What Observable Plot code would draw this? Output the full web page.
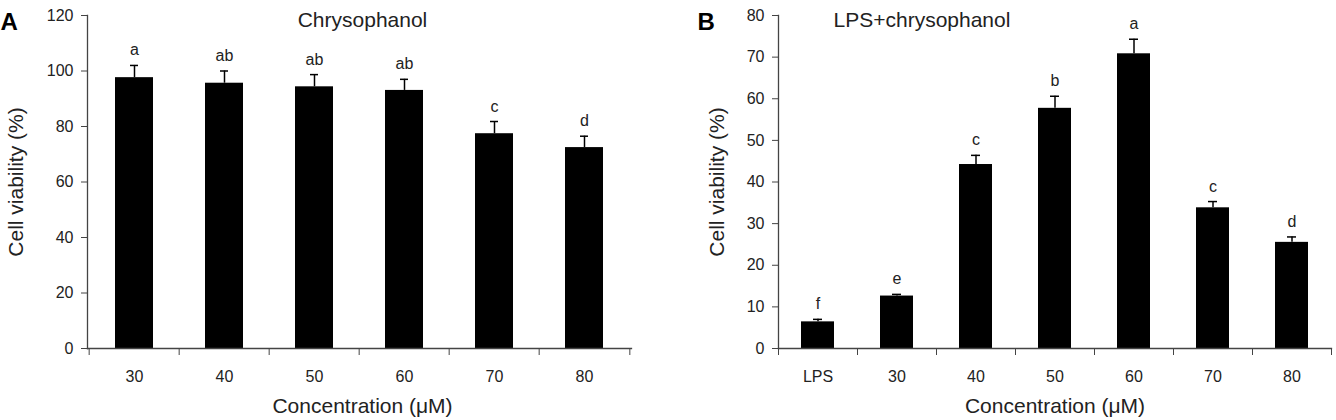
<!DOCTYPE html>
<html><head><meta charset="utf-8">
<script src="https://cdn.jsdelivr.net/npm/d3@7"></script>
<script src="https://cdn.jsdelivr.net/npm/@observablehq/plot@0.6"></script>
<style>
body{margin:0;background:#fff;font-family:"Liberation Sans",Arial,sans-serif;}
#wrap{display:flex;width:1336px;height:420px;}
#wrap svg{overflow:visible;}
</style></head><body><div id="wrap"></div>
<script>
// Panel A: Chrysophanol alone
const catsA = ["30","40","50","60","70","80"];
const valsA = [97.6, 95.6, 94.3, 93.0, 77.4, 72.4];
const errsA = [4.4, 4.4, 4.4, 4.0, 4.4, 4.1];
const sigA  = ["a","ab","ab","ab","c","d"];
const yTicksA = [0,20,40,60,80,100,120];

// Panel B: LPS + chrysophanol
const catsB = ["LPS","30","40","50","60","70","80"];
const valsB = [6.4, 12.6, 44.2, 57.7, 70.8, 33.8, 25.5];
const errsB = [0.6, 0.4, 2.2, 2.9, 3.5, 1.5, 1.3];
const sigB  = ["f","e","c","b","a","c","d"];
const yTicksB = [0,10,20,30,40,50,60,70,80];

const titleA = "Chrysophanol", titleB = "LPS+chrysophanol";
const letterA = "A", letterB = "B";
const xLabel = "Concentration (μM)", yLabel = "Cell viability (%)";

const FONT = '"Liberation Sans", Arial, sans-serif';

function panel(o) {
  const W = 668, H = 420, mt = 15, mb = 72;
  const data = o.cats.map((c, i) => ({cat: c, v: o.vals[i], top: o.vals[i] + o.errs[i], sig: o.sig[i]}));
  const step = (W - o.ml - o.mr) / o.cats.length;
  const ink = "#222", axisInk = "#444";
  return Plot.plot({
    width: W, height: H, marginLeft: o.ml, marginRight: o.mr, marginTop: mt, marginBottom: mb,
    style: {fontFamily: FONT, color: ink, background: "transparent", overflow: "visible"},
    x: {type: "band", domain: o.cats, paddingInner: 0.58, paddingOuter: 0.29},
    y: {domain: [0, o.yTicks[o.yTicks.length - 1]]},
    marks: [
      Plot.barY(data, {x: "cat", y: "v", fill: "#000"}),
      Plot.ruleX(data, {x: "cat", y1: "v", y2: "top", stroke: "#000", strokeWidth: 1.5}),
      Plot.tickY(data, {x: "cat", y: "top", stroke: "#000", strokeWidth: 1.5, insetLeft: o.capInset, insetRight: o.capInset}),
      Plot.text(data, {x: "cat", y: "top", text: "sig", dy: -10, lineAnchor: "bottom", fontSize: 16, fill: ink}),
      Plot.axisY({ticks: o.yTicks, tickSize: 6, tickPadding: 8, fontSize: 16, label: null, stroke: axisInk, tickFormat: d => String(d)}),
      Plot.axisX({tickSize: 0, tickPadding: 22, fontSize: 16, label: null}),
      Plot.axisX({text: null, tickSize: 7, dx: -step / 2, label: null, stroke: axisInk}),
      Plot.axisX({ticks: [o.cats[o.cats.length - 1]], text: null, tickSize: 7, dx: step / 2, label: null, stroke: axisInk}),
      Plot.frame({anchor: "left", stroke: axisInk, strokeWidth: 1.3}),
      Plot.frame({anchor: "bottom", stroke: axisInk, strokeWidth: 1.3}),
      Plot.text([o.title], {frameAnchor: o.titleAnchor, textAnchor: o.titleTextAnchor, dx: o.titleDx, dy: 11, lineAnchor: "bottom", fontSize: 21, fill: ink}),
      Plot.text([o.letter], {frameAnchor: "top-left", textAnchor: "start", dx: o.letterDx, dy: 14, lineAnchor: "bottom", fontSize: 24, fontWeight: "bold", fill: "#000"}),
      Plot.text([yLabel], {frameAnchor: "left", rotate: -90, dx: o.yLabelDx, lineAnchor: "bottom", textAnchor: "middle", fontSize: 21, fill: ink}),
      Plot.text([xLabel], {frameAnchor: "bottom", dx: o.xLabelDx, dy: 64, lineAnchor: "bottom", textAnchor: "middle", fontSize: 21, fill: ink})
    ]
  });
}

const wrap = document.getElementById("wrap");
wrap.append(panel({cats: catsA, vals: valsA, errs: errsA, sig: sigA, yTicks: yTicksA,
  title: titleA, letter: letterA, ml: 87, mr: 37, titleAnchor: "top", titleTextAnchor: "middle", titleDx: 3,
  letterDx: -87, yLabelDx: -65, xLabelDx: 3, capInset: 15}));
wrap.append(panel({cats: catsB, vals: valsB, errs: errsB, sig: sigB, yTicks: yTicksB,
  title: titleB, letter: letterB, ml: 110, mr: 5, titleAnchor: "top-left", titleTextAnchor: "start", titleDx: 55,
  letterDx: -81, yLabelDx: -55, xLabelDx: 0, capInset: 12}));
</script></body></html>
